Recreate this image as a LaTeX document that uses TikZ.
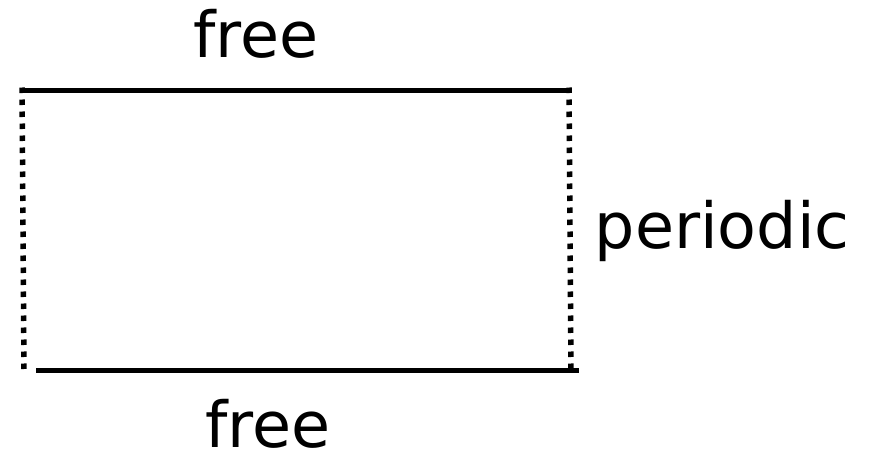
\documentclass[tikz,border=0pt]{standalone}
\usepackage{fontspec}
\setmainfont{DejaVu Sans}
\begin{document}
\begin{tikzpicture}[x=1pt,y=-1pt,
  solidedge/.style={line width=5pt,line cap=butt},
  dottededge/.style={line width=5.5pt,dash pattern=on 5.5pt off 6.5pt,line cap=butt},
  lbl/.style={inner sep=0pt,font=\fontsize{63.5}{70}\selectfont}]
\useasboundingbox (0,0) rectangle (869,453);
\coordinate (tl) at (24,90);
\coordinate (tr) at (569,90);
\coordinate (bl) at (36,370);
\coordinate (br) at (579,370);
\coordinate (ltop) at (22,87.5);
\coordinate (lbot) at (24,373);
\coordinate (rtop) at (569,87.5);
\coordinate (rbot) at (571,373);
\draw[solidedge] (tl) -- (tr);
\draw[solidedge] (bl) -- (br);
\draw[dottededge] (ltop) -- (lbot);
\draw[dottededge] (rtop) -- (rbot);
\node[lbl,anchor=base] (ftop) at (256,57) {free};
\node[lbl,anchor=base] (fbot) at (268,447) {free};
\node[lbl,anchor=base west] (per) at (594.5,248) {periodic};
\end{tikzpicture}
\end{document}
